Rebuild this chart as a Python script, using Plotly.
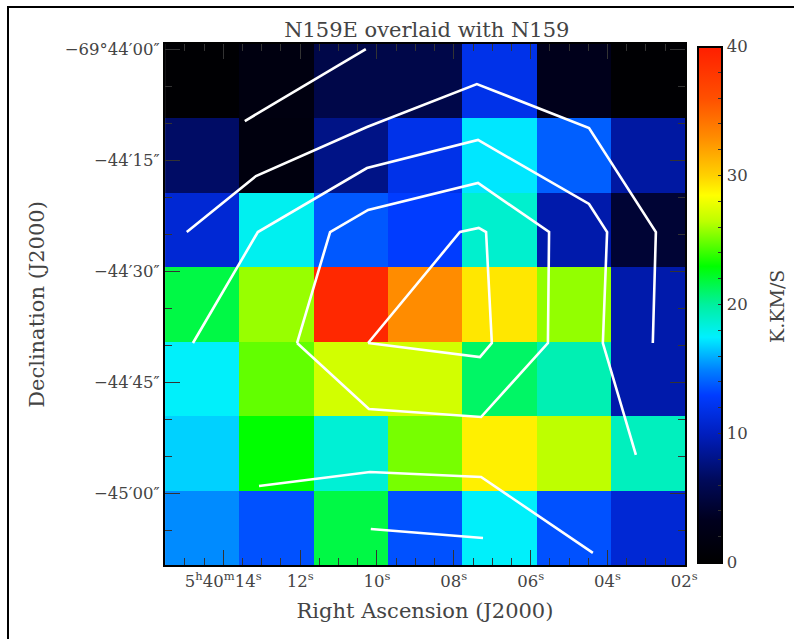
import plotly.graph_objects as go

# ---------------- data ----------------
# RA cell centres (seconds of 5h40m), Dec cell centres (arcsec offset from -69°44'00")
ra_centers = [14.55, 12.62, 10.68, 8.75, 6.81, 4.88, 2.95]
dec_centers = [-4.26, -14.32, -24.38, -34.44, -44.50, -54.56, -64.61]

# integrated intensity (K.km/s), rows top -> bottom, columns left -> right
intensity = [
    [0.3, 1.8, 5.5, 5.5, 12.0, 3.0, 0.3],
    [6.8, 1.5, 8.0, 12.0, 17.3, 14.0, 9.0],
    [11.0, 17.9, 13.8, 13.0, 18.8, 9.3, 4.5],
    [21.7, 25.8, 39.2, 33.0, 29.3, 25.7, 9.3],
    [17.6, 24.8, 27.1, 27.1, 21.1, 19.5, 9.3],
    [16.8, 23.0, 18.6, 25.2, 29.0, 26.5, 19.2],
    [15.2, 13.6, 21.7, 13.6, 17.6, 13.6, 11.0],
]

# N159 contour polylines (RA seconds, Dec arcsec offset)
contour_ra = [
    [13.44, 10.29],
    [14.95, 13.15, 10.26, 7.40, 4.48, 2.74, 2.82],
    [14.79, 13.10, 10.26, 7.37, 4.48, 4.01, 4.12, 3.26],
    [12.08, 11.22, 10.23, 7.37, 5.52, 5.55, 7.29, 10.21, 12.08],
    [10.23, 7.84, 7.35, 7.16, 7.01, 7.32, 10.23],
    [13.07, 10.18, 7.29, 4.38],
    [10.16, 7.24],
]
contour_dec = [
    [-9.64, 0.09],
    [-24.64, -17.07, -10.45, -4.64, -10.58, -24.64, -39.64],
    [-39.64, -24.64, -15.99, -12.20, -20.85, -24.64, -39.64, -54.77],
    [-39.64, -24.64, -21.66, -18.01, -24.64, -39.64, -49.64, -48.55, -39.64],
    [-39.64, -24.64, -24.09, -24.64, -39.64, -41.53, -39.64],
    [-58.96, -57.07, -57.74, -68.01],
    [-64.77, -65.99],
]

x_tickvals = [14, 12, 10, 8, 6, 4, 2]
x_ticktext = ["5<sup>h</sup>40<sup>m</sup>14<sup>s</sup>", "12<sup>s</sup>", "10<sup>s</sup>",
              "08<sup>s</sup>", "06<sup>s</sup>", "04<sup>s</sup>", "02<sup>s</sup>"]
y_tickvals = [0, -15, -30, -45, -60]
y_ticktext = ["\u221269\u00b044\u203200\u2033", "\u221244\u203215\u2033", "\u221244\u203230\u2033",
              "\u221244\u203245\u2033", "\u221245\u203200\u2033"]

# ---------------- figure ----------------
FONT = "DejaVu Serif"
TXT = "#444444"

colorscale = [
    [0.0, "rgb(0,0,0)"],
    [0.0825, "rgb(0,0,30)"],
    [0.16, "rgb(0,10,90)"],
    [0.25, "rgb(0,30,190)"],
    [0.325, "rgb(0,60,255)"],
    [0.375, "rgb(0,130,255)"],
    [0.4375, "rgb(0,240,255)"],
    [0.5, "rgb(0,240,160)"],
    [0.575, "rgb(0,255,0)"],
    [0.6625, "rgb(190,255,0)"],
    [0.7125, "rgb(255,255,0)"],
    [0.75, "rgb(255,210,0)"],
    [0.825, "rgb(255,140,0)"],
    [0.9, "rgb(255,80,0)"],
    [1.0, "rgb(255,30,0)"],
]

cb_common = dict(x=1.025, xanchor="left", xpad=0, ypad=0,
                 y=0.5, yanchor="middle", len=0.99, lenmode="fraction",
                 thickness=24, outlinewidth=2, outlinecolor="black")

fig = go.Figure()
fig.add_trace(go.Heatmap(
    x=ra_centers, y=dec_centers, z=intensity,
    zmin=0, zmax=40, colorscale=colorscale,
    showscale=True,
    colorbar=dict(
        **cb_common,
        tickmode="linear", tick0=0, dtick=10,
        ticks="inside", ticklen=6, tickcolor="#333333",
        tickfont=dict(family=FONT, size=16.5, color=TXT),
    ),
))
# second (identical) colour bar carrying the unlabeled minor ticks
fig.add_trace(go.Scatter(
    x=[None], y=[None], mode="markers", showlegend=False, hoverinfo="skip",
    marker=dict(color=[0], cmin=0, cmax=40, colorscale=colorscale, showscale=True,
                colorbar=dict(**cb_common, tickmode="linear", tick0=0, dtick=2,
                              ticks="inside", ticklen=5, tickcolor="#333333",
                              showticklabels=False)),
))

for cx, cy in zip(contour_ra, contour_dec):
    fig.add_trace(go.Scatter(x=cx, y=cy, mode="lines",
                             line=dict(color="white", width=2.6),
                             showlegend=False, hoverinfo="skip"))

fig.update_layout(
    width=794, height=639,
    margin=dict(l=165, r=109, t=44, b=74),
    paper_bgcolor="white", plot_bgcolor="white",
    showlegend=False,
    title=dict(text="N159E overlaid with N159", x=0.5375, xanchor="center",
               y=1 - 30 / 639, yanchor="middle",
               font=dict(family=FONT, size=21, color=TXT)),
    xaxis=dict(
        range=[15.517, 1.982], showgrid=False, zeroline=False,
        tickmode="array", tickvals=x_tickvals, ticktext=x_ticktext,
        ticks="inside", ticklen=15, tickwidth=1, tickcolor="#333333",
        minor=dict(ticks="inside", ticklen=7, dtick=0.5, tick0=0, tickcolor="#333333", showgrid=False),
        showline=True, linewidth=2, linecolor="black", mirror="ticks",
        tickfont=dict(family=FONT, size=16.5, color=TXT),
        title=dict(text="Right Ascension (J2000)", standoff=14,
                   font=dict(family=FONT, size=21, color=TXT)),
    ),
    yaxis=dict(
        range=[-69.64, 0.77], showgrid=False, zeroline=False,
        tickmode="array", tickvals=y_tickvals, ticktext=y_ticktext,
        ticks="inside", ticklen=15, tickwidth=1, tickcolor="#333333",
        minor=dict(ticks="inside", ticklen=7, dtick=5, tick0=0, tickcolor="#333333", showgrid=False),
        showline=True, linewidth=2, linecolor="black", mirror="ticks",
        tickfont=dict(family=FONT, size=16.5, color=TXT),
        title=dict(text="Declination (J2000)", standoff=14,
                   font=dict(family=FONT, size=21, color=TXT)),
    ),
    shapes=[dict(type="rect", xref="paper", yref="paper",
                 x0=(8 - 165) / 520, x1=(900 - 165) / 520,
                 y0=(565 - 720) / 521, y1=(565 - 7) / 521,
                 line=dict(color="black", width=2), fillcolor="rgba(0,0,0,0)", layer="above")],
    annotations=[dict(text="K.KM/S", xref="paper", yref="paper",
                      x=(777 - 165) / 520, y=(565 - 307) / 521,
                      xanchor="center", yanchor="middle", textangle=-90, showarrow=False,
                      font=dict(family=FONT, size=19, color=TXT))],
)

fig.write_html("out.html")
